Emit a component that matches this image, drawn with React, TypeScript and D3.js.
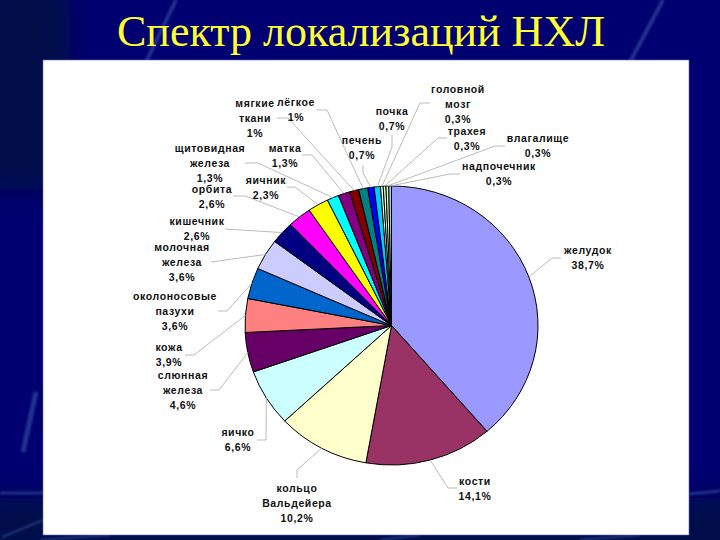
import { useEffect, useRef } from "react";
import * as d3 from "d3";

const labels = [
    ["желудок"], ["кости"], ["кольцо", "Вальдейера"], ["яичко"], ["слюнная", "железа"],
    ["кожа"], ["околоносовые", "пазухи"], ["молочная", "железа"], ["кишечник"], ["орбита"],
    ["яичник"], ["щитовидная", "железа"], ["матка"], ["мягкие", "ткани"], ["лёгкое"],
    ["печень"], ["почка"], ["головной", "мозг"], ["трахея"], ["влагалище"], ["надпочечник"],
];
const values = [38.7, 14.1, 10.2, 6.6, 4.6, 3.9, 3.6, 3.6, 2.6, 2.6, 2.3, 1.3, 1.3, 1, 1, 0.7, 0.7, 0.3, 0.3, 0.3, 0.3];
const valueText = ["38,7%", "14,1%", "10,2%", "6,6%", "4,6%", "3,9%", "3,6%", "3,6%", "2,6%", "2,6%", "2,3%", "1,3%", "1,3%", "1%", "1%", "0,7%", "0,7%", "0,3%", "0,3%", "0,3%", "0,3%"];
const colors = ["#9999ff", "#993366", "#ffffcc", "#ccffff", "#660066", "#ff8080", "#0066cc", "#ccccff", "#000080", "#ff00ff", "#ffff00", "#00ffff", "#800080", "#800000", "#008080", "#0000ff", "#00ccff", "#ccffff", "#ccffcc", "#ffff99", "#99ccff"];

// label centre x, first line centre y
const labelPos = [
    [588, 250], [475, 481], [297, 488], [238, 432], [183, 375], [169, 347], [175, 296], [182, 247],
    [197, 221], [212, 189], [266, 180], [210, 148], [285, 148], [255, 103], [296, 102], [362, 140],
    [392, 111], [458, 89], [467, 131], [538, 138], [499, 166],
];
// leader polyline from the label to just before the slice edge
const leaders = [
    [[561, 258], [552, 258]], [[457, 488], [448, 488]], [[297, 478], [297, 470]], [[257, 440], [266, 440]],
    [[210, 390], [219, 390]], [[185, 355], [194, 355]], [[218, 311], [227, 311]], [[211, 262]],
    [[225, 229]], [[233, 196], [245, 196]], [[287, 187], [295, 187]], [[245, 163], [258, 163]],
    [[302, 155], [312, 155]], [[277, 118], [288, 118]], [[317, 110], [327, 110]], [[363, 165], [363, 173]],
    [[392, 135], [392, 147]], [[430, 103], [420, 103]], [[447, 138], [438, 138]], [[505, 146], [495, 146]], [[460, 174], [450, 174]],
];
// pale streaks of the slide template
const streaks = [
    { p: [[176, 0], [146, 62]], w: 4 },
    { p: [[663, 0], [630, 62]], w: 4 },
    { p: [[36, 392], [23, 452]], w: 5 },
    { p: [[0, 493], [43, 493]], w: 3 },
    { p: [[689, 494], [720, 491]], w: 3 },
    { p: [[2, 537], [43, 520]], w: 2 },
    { p: [[40, 540], [110, 535]], w: 2 },
    { p: [[380, 540], [420, 535]], w: 2 },
    { p: [[580, 540], [640, 535]], w: 2 },
];

const rx = 146.5;
const ry = 139.5;
const cx = 391.5;
const cy = 325.5;

export default function App() {
    const ref = useRef<SVGSVGElement>(null);

    useEffect(() => {
        if (!ref.current) return;
        const svg = d3.select(ref.current);
        svg.selectAll("*").remove();

        // Slide background
        const defs = svg.append("defs");
        defs.append("filter").attr("id", "soft").append("feGaussianBlur").attr("stdDeviation", 0.9);
        defs.append("filter").attr("id", "softer").append("feGaussianBlur").attr("stdDeviation", 12);
        svg.append("rect").attr("width", 720).attr("height", 540).attr("fill", "#000070");

        const shade = svg.append("g").attr("filter", "url(#softer)").attr("fill", "#000a48");
        shade.append("rect").attr("x", -20).attr("y", -20).attr("width", 90).attr("height", 210);
        shade.append("rect").attr("x", -20).attr("y", 498).attr("width", 780).attr("height", 60);

        const streakLine = d3.line();
        svg.append("g")
            .attr("filter", "url(#soft)")
            .selectAll("path")
            .data(streaks)
            .enter()
            .append("path")
            .attr("d", d => streakLine(d.p as [number, number][]))
            .attr("fill", "none")
            .attr("stroke", "#3a5ca8")
            .attr("stroke-opacity", 0.55)
            .attr("stroke-width", d => d.w);

        svg.append("text")
            .attr("x", 361).attr("y", 46)
            .attr("text-anchor", "middle")
            .attr("font-family", "Liberation Serif")
            .attr("font-size", 44)
            .attr("fill", "#ffff33")
            .text("Спектр локализаций НХЛ");

        svg.append("rect")
            .attr("x", 43).attr("y", 60).attr("width", 646).attr("height", 475)
            .attr("fill", "#fff").attr("stroke", "#6a6aa8").attr("stroke-width", 0.6);

        const pie = d3.pie<number>().sort(null)(values);
        const arc = d3.arc<d3.PieArcDatum<number>>().innerRadius(0).outerRadius(rx);

        const chart = svg.append("g").attr("transform", `translate(${cx},${cy})`);
        chart.append("g")
            .attr("transform", `scale(1,${ry / rx})`)
            .selectAll("path")
            .data(pie)
            .enter()
            .append("path")
            .attr("d", d => arc(d))
            .attr("fill", (_, i) => colors[i])
            .attr("stroke", "#000")
            .attr("stroke-width", 1)
            .attr("vector-effect", "non-scaling-stroke");

        // Leader lines end on the slice edge
        const line = d3.line();
        svg.append("g")
            .selectAll("path")
            .data(pie)
            .enter()
            .append("path")
            .attr("d", (d, i) => {
                const a = (d.startAngle + d.endAngle) / 2;
                const end: [number, number] = [cx + rx * Math.sin(a), cy - ry * Math.cos(a)];
                return line([...(leaders[i] as [number, number][]), end]);
            })
            .attr("fill", "none")
            .attr("stroke", "#bbb")
            .attr("stroke-width", 1);

        const text = svg.append("g")
            .attr("font-family", "Liberation Sans")
            .attr("font-size", 10.5)
            .attr("font-weight", "bold")
            .attr("letter-spacing", 0.6)
            .attr("text-anchor", "middle")
            .attr("fill", "#111");
        labels.forEach((lines, i) => {
            const [x, y] = labelPos[i];
            [...lines, valueText[i]].forEach((s, k) => {
                text.append("text")
                    .attr("x", x)
                    .attr("y", y + k * 15)
                    .attr("dy", "0.35em")
                    .text(s);
            });
        });
    }, []);

    return <svg ref={ref} width={720} height={540} style={{ position: "absolute", left: 0, top: 0 }} />;
}
